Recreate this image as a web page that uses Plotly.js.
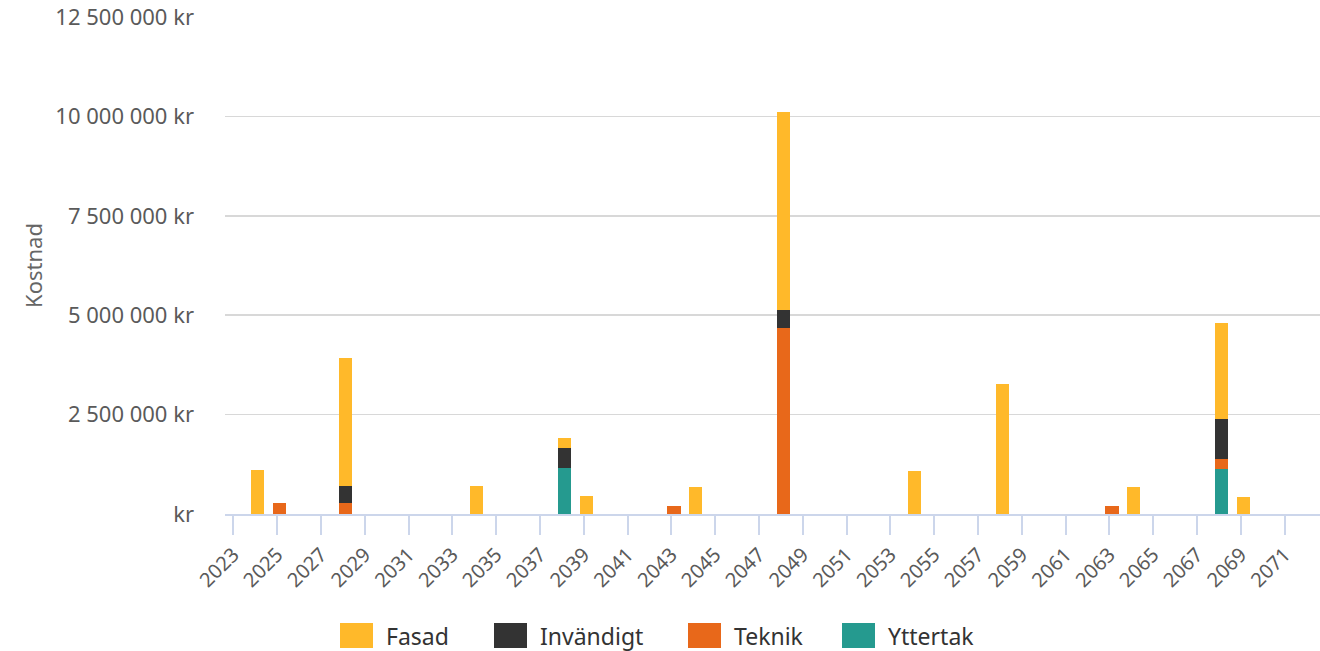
<!DOCTYPE html>
<html>
<head>
<meta charset="utf-8">
<script src="https://cdn.plot.ly/plotly-3.0.1.min.js"></script>
<style>
html,body{margin:0;padding:0;background:#fff;}
#chart{width:1320px;height:651px;}
</style>
</head>
<body>
<div id="chart"></div>
<script>
// Years 2023..2072
const years = [2023,2024,2025,2026,2027,2028,2029,2030,2031,2032,2033,2034,2035,2036,2037,2038,2039,2040,2041,2042,2043,2044,2045,2046,2047,2048,2049,2050,2051,2052,2053,2054,2055,2056,2057,2058,2059,2060,2061,2062,2063,2064,2065,2066,2067,2068,2069,2070,2071,2072];

const fasad = [0,1100000,0,0,0,3220000,0,0,0,0,0,700000,0,0,0,250000,450000,0,0,0,0,690000,0,0,0,4980000,0,0,0,0,0,1090000,0,0,0,3260000,0,0,0,0,0,690000,0,0,0,2410000,440000,0,0,0];
const invandigt = [0,0,0,0,0,430000,0,0,0,0,0,0,0,0,0,500000,0,0,0,0,0,0,0,0,0,450000,0,0,0,0,0,0,0,0,0,0,0,0,0,0,0,0,0,0,0,1010000,0,0,0,0];
const teknik = [0,0,280000,0,0,280000,0,0,0,0,0,0,0,0,0,0,0,0,0,0,210000,0,0,0,0,4670000,0,0,0,0,0,0,0,0,0,0,0,0,0,0,210000,0,0,0,0,250000,0,0,0,0];
const yttertak = [0,0,0,0,0,0,0,0,0,0,0,0,0,0,0,1160000,0,0,0,0,0,0,0,0,0,0,0,0,0,0,0,0,0,0,0,0,0,0,0,0,0,0,0,0,0,1140000,0,0,0,0];

const xTickYears = [2023,2025,2027,2029,2031,2033,2035,2037,2039,2041,2043,2045,2047,2049,2051,2053,2055,2057,2059,2061,2063,2065,2067,2069,2071];
const yTickVals = [0,2500000,5000000,7500000,10000000,12500000];
const yTickText = ["kr","2 500 000 kr","5 000 000 kr","7 500 000 kr","10 000 000 kr","12 500 000 kr"];

const seriesNames = ["Fasad","Invändigt","Teknik","Yttertak"];
const seriesColors = ["#FFB92A","#333333","#E8681A","#259A8F"];

const FONT = "'Noto Sans', 'DejaVu Sans', sans-serif";

// plot area in pixels (for legend placement)
const PL = 225, PR = 1320, PT = 17, PB = 514;
const px2x = p => (p - PL) / (PR - PL);
const px2y = p => (PB - p) / (PB - PT);

function tr(name, vals, color){
  return {
    type:"bar", name:name, x:years, y:vals, width:0.6,
    marker:{color:color, line:{width:0}},
    showlegend:false,
    hoverinfo:"x+y+name"
  };
}

// stack bottom -> top: Yttertak, Teknik, Invändigt, Fasad
const data = [
  tr(seriesNames[3], yttertak, seriesColors[3]),
  tr(seriesNames[2], teknik, seriesColors[2]),
  tr(seriesNames[1], invandigt, seriesColors[1]),
  tr(seriesNames[0], fasad, seriesColors[0])
];

// custom legend (big swatches like the reference)
const legendLeft = [340, 494, 688, 842];
const shapes = [], annotations = [];
seriesNames.forEach((n, i) => {
  const x0 = legendLeft[i];
  shapes.push({type:"rect", xref:"paper", yref:"paper",
    x0:px2x(x0), x1:px2x(x0+33), y0:px2y(648), y1:px2y(623),
    fillcolor:seriesColors[i], line:{width:0}});
  annotations.push({xref:"paper", yref:"paper", x:px2x(x0+44), y:px2y(635.5),
    xanchor:"left", yanchor:"middle", showarrow:false, text:n,
    font:{family:FONT, size:23, color:"#333"}});
});

const layout = {
  width:1320, height:651,
  margin:{l:PL, r:1320-PR, t:PT, b:651-PB},
  barmode:"stack",
  paper_bgcolor:"#fff", plot_bgcolor:"#fff",
  font:{family:FONT, color:"#555", size:18},
  showlegend:false,
  shapes:shapes,
  annotations:annotations,
  xaxis:{
    type:"linear", range:[2022.5, 2072.5],
    tickmode:"array", tickvals:xTickYears.map(y => y - 0.12), ticktext:xTickYears.map(String),
    tickangle:-45, ticks:"outside", ticklen:19, tickwidth:2, tickcolor:"#ccd6eb",
    showline:true, linecolor:"#ccd6eb", linewidth:2,
    showgrid:false, zeroline:false,
    tickfont:{family:FONT, size:20, color:"#5a5a5a"},
    fixedrange:true
  },
  yaxis:{
    range:[0,12500000],
    tickmode:"array", tickvals:yTickVals, ticktext:yTickText,
    showgrid:true, gridcolor:"#d8d8d8", gridwidth:1.5,
    zeroline:false, showline:false,
    ticks:"", ticklabelstandoff:30,
    tickfont:{family:FONT, size:22, color:"#5a5a5a"},
    title:{text:"Kostnad", font:{family:FONT, size:22, color:"#666"}, standoff:6},
    fixedrange:true
  }
};

Plotly.newPlot("chart", data, layout, {displayModeBar:false, staticPlot:true});
</script>
</body>
</html>
